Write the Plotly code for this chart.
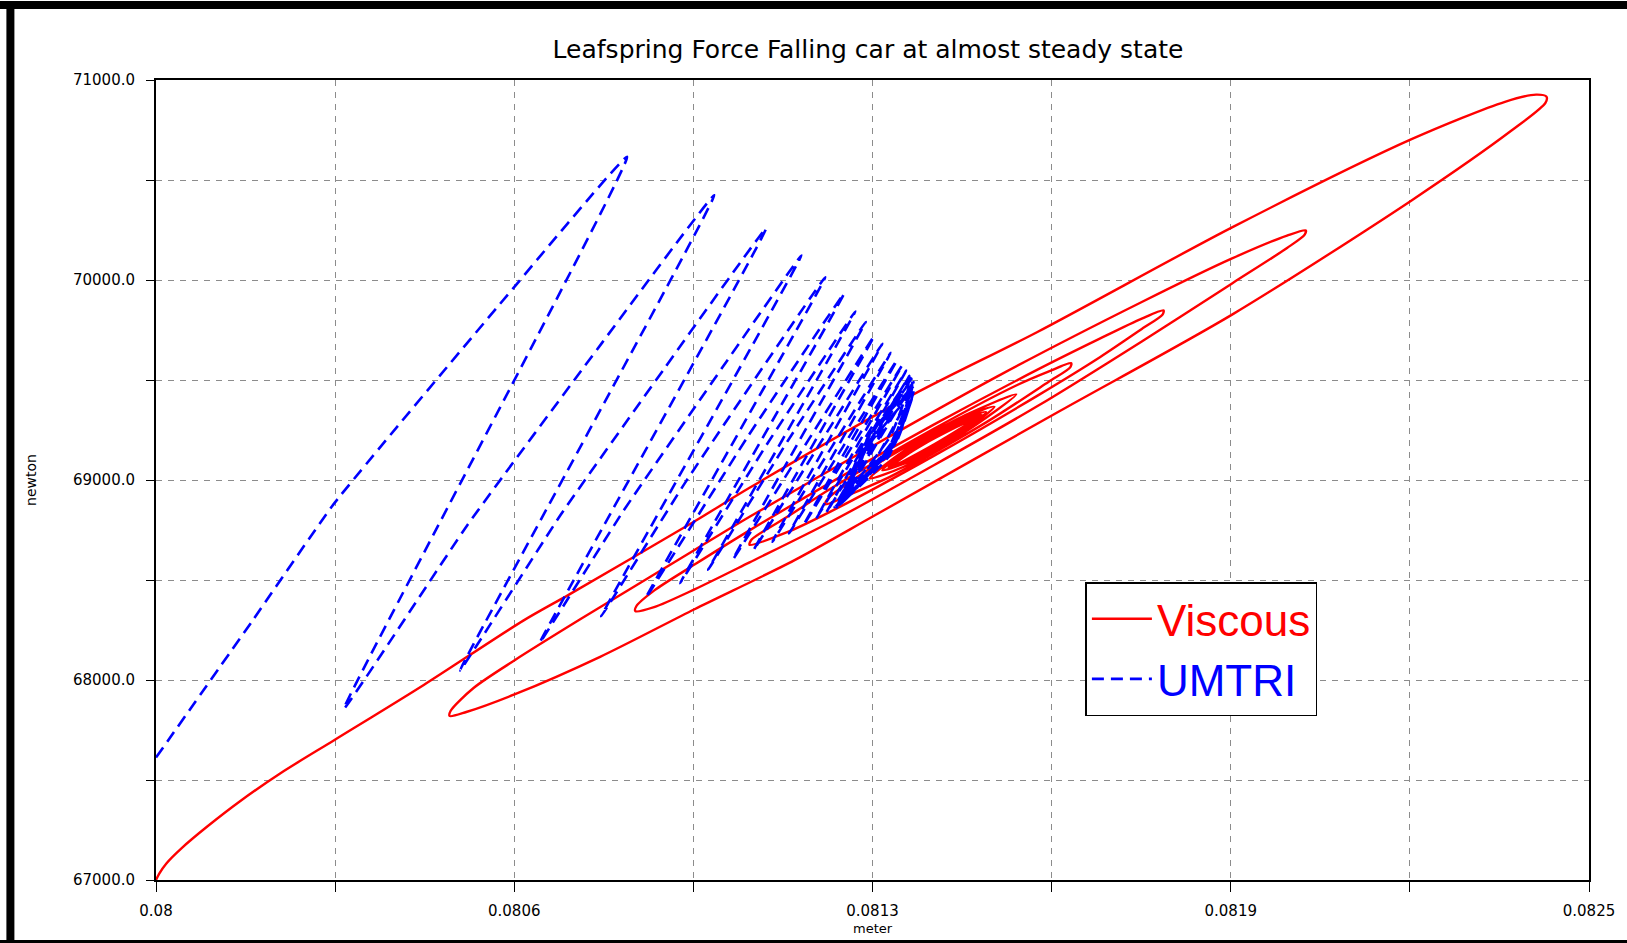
import plotly.graph_objects as go

# ---------------- data ----------------
viscous_x = [
    0.0800000, 0.0800054, 0.0800181, 0.0800453, 0.0800905, 0.0801466, 0.0802172,
    0.0803114, 0.0804671, 0.0806408, 0.0807205,
    0.0809377, 0.0810355, 0.0813215, 0.0815369, 0.0818773, 0.0821904, 0.0823534, 0.0824077,
    0.0824258,
    0.0824240, 0.0823642, 0.0821904, 0.0818773, 0.0815768, 0.0812527, 0.0811133, 0.0809395,
    0.0807748, 0.0806264, 0.0805413, 0.0805123, 0.0805141,
    0.0805540, 0.0806264, 0.0807422, 0.0809395, 0.0810355, 0.0812527, 0.0814736, 0.0817198,
    0.0818773, 0.0819732, 0.0820058, 0.0820040,
    0.0819732, 0.0818773, 0.0817198, 0.0815387, 0.0813577, 0.0811767, 0.0810355, 0.0809395,
    0.0808689, 0.0808363, 0.0808382,
    0.0808689, 0.0809395, 0.0810355, 0.0811767, 0.0813577, 0.0815387, 0.0816474, 0.0817198,
    0.0817578, 0.0817560,
    0.0817198, 0.0816474, 0.0815387, 0.0813577, 0.0811767, 0.0811043, 0.0810355, 0.0810391,
    0.0811043, 0.0811767, 0.0813577, 0.0815025, 0.0815568, 0.0815967, 0.0815949,
    0.0815568, 0.0814482, 0.0812853, 0.0812129, 0.0811676, 0.0811712,
    0.0812672, 0.0814120, 0.0815007,
    0.0814120, 0.0813034, 0.0812455,
    0.0813034, 0.0814120, 0.0814627,
    0.0813939, 0.0813215, 0.0812672,
    0.0813215, 0.0813939, 0.0814482,
    0.0813939, 0.0813215, 0.0812781,
    0.0813215, 0.0813939, 0.0814410,
    0.0813939, 0.0813215, 0.0812817,
    0.0813396, 0.0814374,
    0.0813577, 0.0812817,
    0.0813577, 0.0814374,
    0.0813577, 0.0812835,
    0.0813577, 0.0814355,
    0.0813577, 0.0812817,
    0.0813577, 0.0814374,
]
viscous_y = [
    67000, 67031, 67083, 67161, 67270, 67394, 67534,
    67700, 67975, 68297, 68427,
    68790, 68961, 69428, 69739, 70263, 70704, 70891, 70927,
    70917,
    70886, 70746, 70398, 69827, 69345, 68821, 68598, 68354,
    68116, 67929, 67840, 67820, 67846,
    67960, 68100, 68307, 68650, 68816, 69174, 69527, 69890,
    70108, 70222, 70248, 70227,
    70160, 69983, 69693, 69371, 69075, 68790, 68588, 68453,
    68364, 68344, 68370,
    68447, 68577, 68748, 68987, 69278, 69553, 69708, 69807,
    69848, 69827,
    69755, 69615, 69423, 69122, 68842, 68743, 68676, 68702,
    68821, 68956, 69257, 69475, 69542, 69584, 69563,
    69490, 69288, 69023, 68930, 68878, 68904,
    69096, 69324, 69428,
    69241, 69065, 69008,
    69143, 69319, 69366,
    69215, 69101, 69049,
    69169, 69288, 69340,
    69220, 69106, 69065,
    69163, 69283, 69324,
    69226, 69112, 69070,
    69179, 69319,
    69158, 69065,
    69226, 69324,
    69169, 69070,
    69215, 69319,
    69179, 69065,
    69231, 69324,
]

umtri_x = [
    0.0800000, 0.0801684, 0.0803096, 0.0806227, 0.0808219,
    0.0803277, 0.0805431, 0.0807784, 0.0809739,
    0.0805304, 0.0807060, 0.0808870, 0.0810644,
    0.0806698, 0.0808146, 0.0809957, 0.0811260,
    0.0807766, 0.0809232, 0.0811676,
    0.0808545, 0.0810319, 0.0812002,
    0.0809142, 0.0810681, 0.0812201,
    0.0809631, 0.0811043, 0.0812382,
    0.0810065, 0.0812527,
    0.0810427, 0.0812672,
    0.0810753, 0.0812817,
    0.0811043, 0.0812925,
    0.0811296, 0.0813016,
    0.0811513, 0.0813088,
    0.0811694, 0.0813143,
    0.0811839, 0.0812817, 0.0813179,
    0.0811948, 0.0812853, 0.0813215,
    0.0812002, 0.0812889, 0.0813197,
    0.0812038, 0.0812781, 0.0813179,
    0.0812455, 0.0811912, 0.0812925, 0.0813233,
    0.0812364, 0.0811984, 0.0812962, 0.0813197,
    0.0812491, 0.0811875, 0.0812853, 0.0813215,
    0.0812418, 0.0812020, 0.0812998, 0.0813161,
    0.0812527, 0.0811948, 0.0812781, 0.0813125,
    0.0812581, 0.0812056,
]
umtri_y = [
    67612, 68297, 68878, 69957, 70616,
    67856, 68774, 69687, 70424,
    68048, 68826, 69558, 70258,
    68188, 68842, 69594, 70123,
    68318, 68987, 70014,
    68411, 69215, 69931,
    68484, 69189, 69843,
    68551, 69205, 69791,
    68603, 69719,
    68650, 69682,
    68691, 69636,
    68733, 69599,
    68774, 69573,
    68805, 69547,
    68837, 69521,
    68863, 69220, 69506,
    68888, 69195, 69490,
    68904, 69179, 69470,
    68914, 69158, 69454,
    69231, 68873, 69195, 69470,
    69195, 68899, 69220, 69501,
    69210, 68863, 69158, 69438,
    69169, 68909, 69246, 69511,
    69246, 68888, 69117, 69402,
    69117, 68930,
]

x_tick_vals = [0.08, 0.0803125, 0.080625, 0.0809375, 0.08125, 0.0815625, 0.081875, 0.0821875, 0.0825]
x_tick_text = ["0.08", "", "0.0806", "", "0.0813", "", "0.0819", "", "0.0825"]
y_tick_vals = [67000, 67500, 68000, 68500, 69000, 69500, 70000, 70500, 71000]
y_tick_text = ["67000.0", "", "68000.0", "", "69000.0", "", "70000.0", "", "71000.0"]

title_text = "Leafspring Force Falling car at almost steady state"
x_title = "meter"
y_title = "newton"

# ---------------- figure ----------------
fig = go.Figure()
fig.add_trace(go.Scatter(
    x=viscous_x, y=viscous_y, mode="lines",
    name='<span style="color:#ff0000">Viscous</span>',
    line=dict(color="#ff0000", width=2.4, shape="spline", smoothing=0.8),
))
fig.add_trace(go.Scatter(
    x=umtri_x, y=umtri_y, mode="lines",
    name='<span style="color:#0000ff">UMTRI</span>',
    line=dict(color="#0000ff", width=2.6, dash="12px,7px", shape="spline", smoothing=0.4),
))

grid_col = "#8c8c8c"
tick_font = dict(family="DejaVu Sans", size=15, color="#000000")

fig.update_layout(
    template="none",
    width=1627, height=943,
    margin=dict(l=156, r=38, t=80, b=63, autoexpand=False),
    paper_bgcolor="white", plot_bgcolor="white",
    title=dict(text=title_text, font=dict(family="DejaVu Sans", size=25, color="#000000"),
               x=868 / 1627, xref="container", xanchor="center",
               y=1 - 49 / 943, yref="container", yanchor="middle"),
    xaxis=dict(range=[0.08, 0.0825], tickmode="array", tickvals=x_tick_vals, ticktext=x_tick_text,
               ticks="outside", ticklen=10, tickwidth=1.2, tickcolor="#000000",
               ticklabelstandoff=6, tickfont=tick_font,
               showline=True, linecolor="#000000", linewidth=2, mirror=True,
               showgrid=True, gridcolor=grid_col, gridwidth=1, griddash="6px,6px",
               zeroline=False, automargin=False),
    yaxis=dict(range=[67000, 71000], tickmode="array", tickvals=y_tick_vals, ticktext=y_tick_text,
               ticks="outside", ticklen=8, tickwidth=1.2, tickcolor="#000000",
               ticklabelstandoff=8, tickfont=tick_font,
               showline=True, linecolor="#000000", linewidth=2, mirror=True,
               showgrid=True, gridcolor=grid_col, gridwidth=1, griddash="6px,6px",
               zeroline=False, automargin=False,
               title=dict(text=y_title, font=dict(family="DejaVu Sans", size=14, color="#000000"),
                          standoff=33)),
    showlegend=True,
    legend=dict(x=(1085 - 155.6) / 1433, y=(879.9 - 582) / 800, xanchor="left", yanchor="top",
                bgcolor="white", bordercolor="#000000", borderwidth=1.5,
                font=dict(family="Liberation Sans, Arial", size=44),
                itemwidth=60, tracegroupgap=0),
    annotations=[
        # x-axis title at the bottom edge, kept fully visible
        dict(text=x_title, xref="paper", yref="paper", x=0.5, y=(879.9 - 938) / 800,
             xanchor="center", yanchor="bottom", showarrow=False,
             font=dict(family="DejaVu Sans", size=13, color="#000000")),
    ],
    shapes=[
        # black frame pieces of the original screenshot
        dict(type="rect", xref="paper", yref="paper", x0=-0.12, x1=1.04, layer="below",
             y0=(879.9 - 9) / 800, y1=(879.9 - 1) / 800, fillcolor="#000000", line=dict(width=0)),
        dict(type="rect", xref="paper", yref="paper", x0=(6 - 155.6) / 1433, x1=(14 - 155.6) / 1433,
             layer="below",
             y0=(879.9 - 944) / 800, y1=(879.9 - 1) / 800, fillcolor="#000000", line=dict(width=0)),
        dict(type="rect", xref="paper", yref="paper", x0=-0.12, x1=1.04, layer="below",
             y0=(879.9 - 944) / 800, y1=(879.9 - 940) / 800, fillcolor="#000000", line=dict(width=0)),
    ],
)

fig.write_html("out.html")
